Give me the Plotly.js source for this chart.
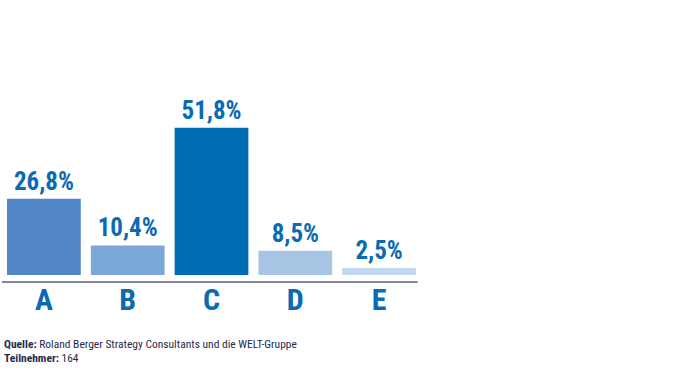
<!DOCTYPE html>
<html><head><meta charset="utf-8">
<script src="https://cdn.plot.ly/plotly-3.0.1.min.js"></script>
<style>body{margin:0;background:#fff}#c{width:700px;height:370px}</style>
</head><body><div id="c"></div>
<script>
var categories = ['A','B','C','D','E'];
var values = [26.8, 10.4, 51.8, 8.5, 2.5];
var barColors = ['#5086c5','#7aa7d6','#006cb5','#a8c5e5','#c3d7ee'];
var labels = values.map(function(v){return v.toFixed(1).replace('.', ',') + '%';});
var narrow = '"Liberation Sans Narrow", "Arial Narrow", "Roboto Condensed", Arial, sans-serif';

var trace = {
  type:'bar', x:categories, y:values, text:labels, textposition:'outside',
  textfont:{family:narrow, size:25, color:'#0a6ab4', weight:'bold'},
  marker:{color:barColors}, cliponaxis:false, hoverinfo:'none'
};
var layout = {
  width:700, height:370, margin:{l:2, r:279, t:100, b:95},
  paper_bgcolor:'#fff', plot_bgcolor:'#fff', showlegend:false, bargap:0.12,
  xaxis:{showgrid:false, zeroline:false, showline:false, ticks:'', ticklen:0, ticklabelstandoff:4,
    tickfont:{family:narrow, size:30, color:'#0a6ab4', weight:'bold'}},
  yaxis:{range:[0,61.6], visible:false},
  shapes:[{type:'line', xref:'paper', yref:'paper', x0:0, x1:0.992, y0:-0.04, y1:-0.04,
    line:{color:'#5a5f78', width:1.5}}],
  annotations:[
    {xref:'paper', yref:'paper', x:0, y:-0.395, xanchor:'left', yanchor:'middle', showarrow:false, align:'left',
     text:'<b>Quelle:</b> Roland Berger Strategy Consultants und die WELT-Gruppe',
     font:{family:narrow, size:11.5, color:'#1f2a4e'}},
    {xref:'paper', yref:'paper', x:0, y:-0.475, xanchor:'left', yanchor:'middle', showarrow:false, align:'left',
     text:'<b>Teilnehmer:</b> 164',
     font:{family:narrow, size:11.5, color:'#1f2a4e'}}
  ]
};
Plotly.newPlot('c',[trace],layout,{displayModeBar:false, staticPlot:true});
</script></body></html>
